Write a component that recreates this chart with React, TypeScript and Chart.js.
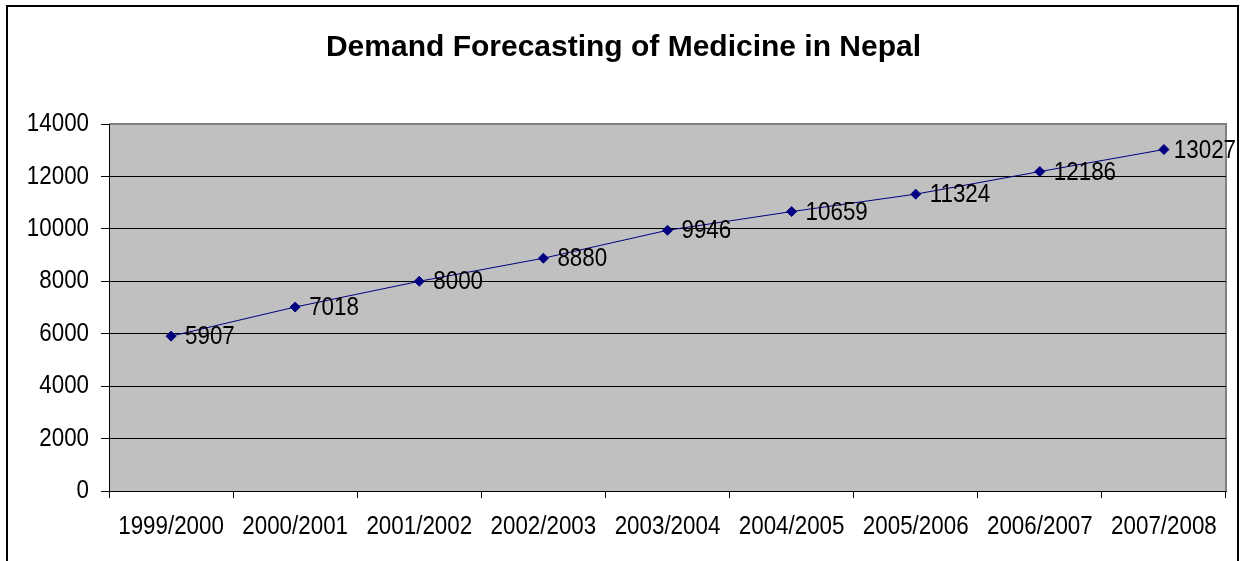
import React, { useEffect, useRef } from 'react';
import { Chart, registerables } from 'chart.js';

Chart.register(...registerables);

const categories = [
  '1999/2000',
  '2000/2001',
  '2001/2002',
  '2002/2003',
  '2003/2004',
  '2004/2005',
  '2005/2006',
  '2006/2007',
  '2007/2008',
];
const demand = [5907, 7018, 8000, 8880, 9946, 10659, 11324, 12186, 13027];
const yTickValues = [0, 2000, 4000, 6000, 8000, 10000, 12000, 14000];
const yMin = 0;
const yMax = 14000;
const yStep = 2000;
const chartTitle = 'Demand Forecasting of Medicine in Nepal';

const FONT = '"Liberation Sans", Arial, sans-serif';
const TEXT_SIZE = 26;
const TEXT_SCALE_X = 0.86;

function drawText(
  ctx: CanvasRenderingContext2D,
  txt: string,
  x: number,
  y: number,
  align: CanvasTextAlign
) {
  ctx.save();
  ctx.translate(x, y);
  ctx.scale(TEXT_SCALE_X, 1);
  ctx.textAlign = align;
  ctx.textBaseline = 'middle';
  ctx.fillText(txt, 0, 0);
  ctx.restore();
}

export default function App() {
  const ref = useRef<HTMLCanvasElement>(null);

  useEffect(() => {
    const canvas = ref.current;
    if (!canvas) return;

    const bgPlugin = {
      id: 'bgPlugin',
      beforeDraw(chart: any) {
        const { ctx, chartArea: a } = chart;
        ctx.save();
        ctx.fillStyle = '#ffffff';
        ctx.fillRect(0, 0, chart.width, chart.height);
        ctx.strokeStyle = '#000000';
        ctx.lineWidth = 2;
        ctx.strokeRect(7, 6, 1231, 640);
        ctx.fillStyle = '#C0C0C0';
        ctx.fillRect(a.left, a.top, a.right - a.left, a.bottom - a.top);
        ctx.strokeStyle = '#808080';
        ctx.lineWidth = 2;
        ctx.beginPath();
        ctx.moveTo(a.left, a.top);
        ctx.lineTo(a.right, a.top);
        ctx.lineTo(a.right, a.bottom);
        ctx.stroke();
        // title
        ctx.fillStyle = '#000000';
        ctx.font = `bold 30px ${FONT}`;
        ctx.textAlign = 'center';
        ctx.textBaseline = 'middle';
        ctx.fillText(chartTitle, 623.5, 48);
        ctx.restore();
      },
    };

    const textPlugin = {
      id: 'textPlugin',
      afterDraw(chart: any) {
        const { ctx } = chart;
        const xScale = chart.scales.x;
        const yScale = chart.scales.y;
        ctx.save();
        ctx.font = `${TEXT_SIZE}px ${FONT}`;
        ctx.fillStyle = '#000000';
        // y axis labels
        yTickValues.forEach((v) => {
          drawText(ctx, String(v), yScale.right - 20, yScale.getPixelForValue(v), 'right');
        });
        // x axis labels
        categories.forEach((c, i) => {
          drawText(ctx, c, xScale.getPixelForValue(i), xScale.top + 36, 'center');
        });
        // data labels
        const meta = chart.getDatasetMeta(0);
        meta.data.forEach((pt: any, i: number) => {
          const txt = String(demand[i]);
          const w = ctx.measureText(txt).width * TEXT_SCALE_X;
          const x = Math.min(pt.x + 14, 1236 - w);
          drawText(ctx, txt, x, pt.y + 1, 'left');
        });
        ctx.restore();
      },
    };

    const chart = new Chart(canvas, {
      type: 'line',
      data: {
        labels: categories,
        datasets: [
          {
            data: demand,
            borderColor: '#000080',
            backgroundColor: '#000080',
            borderWidth: 1,
            pointStyle: 'rectRot',
            pointRadius: 5,
            pointBackgroundColor: '#000080',
            pointBorderColor: '#000080',
            pointBorderWidth: 1,
            tension: 0,
            fill: false,
          },
        ],
      },
      options: {
        responsive: false,
        animation: false,
        layout: { padding: { left: 0, right: 18, top: 124, bottom: 0 } },
        plugins: {
          legend: { display: false },
          tooltip: { enabled: false },
          title: { display: false },
        },
        scales: {
          x: {
            type: 'category',
            offset: true,
            grid: {
              offset: true,
              drawOnChartArea: false,
              drawTicks: true,
              tickLength: 7,
              tickColor: '#000000',
              color: '#000000',
            },
            border: { display: true, color: '#000000', width: 1 },
            ticks: { display: false, autoSkip: false, maxRotation: 0 },
            afterFit(scale: any) {
              scale.height = 70;
            },
          },
          y: {
            min: yMin,
            max: yMax,
            grid: {
              color: (c: any) => (c.tick && c.tick.value === yMax ? 'rgba(0,0,0,0)' : '#000000'),
              tickColor: '#000000',
              tickLength: 8,
              lineWidth: 1,
            },
            border: { display: true, color: '#000000', width: 1 },
            ticks: { display: false, stepSize: yStep },
            afterFit(scale: any) {
              scale.width = 109;
            },
          },
        },
      },
      plugins: [bgPlugin, textPlugin],
    });

    return () => {
      chart.destroy();
    };
  }, []);

  return (
    <div style={{ position: 'absolute', left: 0, top: 0, width: 1244, height: 561 }}>
      <canvas ref={ref} width={1244} height={561} style={{ display: 'block' }} />
    </div>
  );
}
